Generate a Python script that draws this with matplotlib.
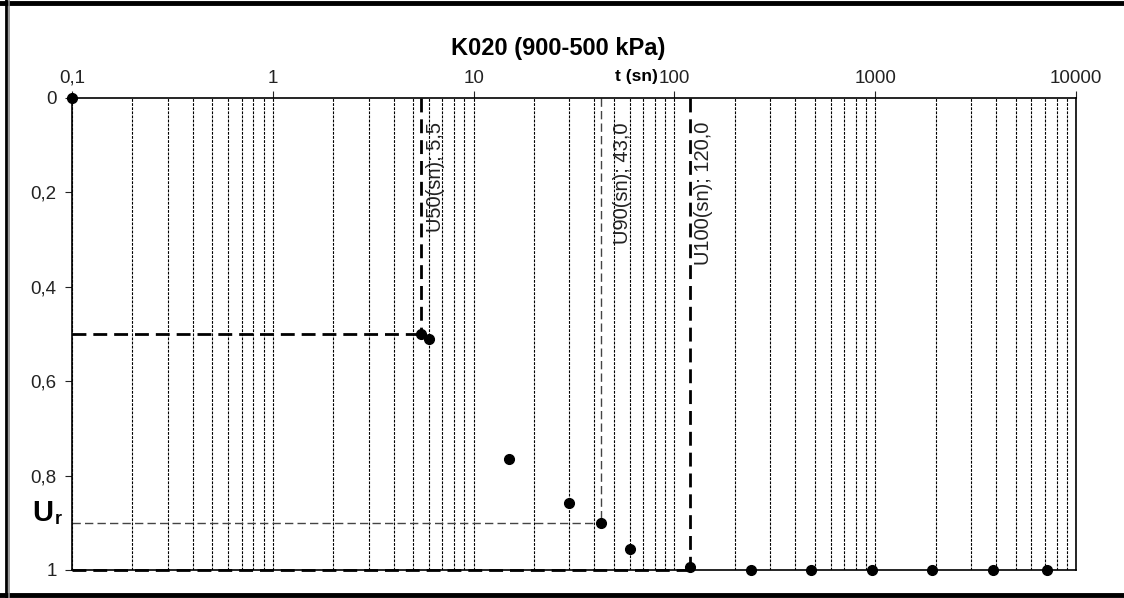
import matplotlib.pyplot as plt
from matplotlib.ticker import FixedLocator, LogLocator, NullFormatter

plt.rcParams['font.family'] = ['Liberation Sans', 'DejaVu Sans']

# measured points (time in sn, degree of consolidation)
t_values = [0.1, 6, 15, 30, 60, 120, 240, 480, 960, 1920, 3840, 7200]
u_values = [0.0, 0.51, 0.765, 0.858, 0.955, 0.994, 1.0, 1.0, 1.0, 1.0, 1.0, 1.0]

# characteristic times
u_levels = [0.5, 0.9, 1.0]
t_levels = [5.5, 43.0, 120.0]
level_labels = ['U50(sn); 5,5', 'U90(sn); 43,0', 'U100(sn); 120,0']

x_ticks = [0.1, 1, 10, 100, 1000, 10000]
x_ticklabels = ['0,1', '1', '10', '100', '1000', '10000']
y_ticks = [0, 0.2, 0.4, 0.6, 0.8, 1.0]
y_ticklabels = ['0', '0,2', '0,4', '0,6', '0,8', '1']

fig = plt.figure(figsize=(11.24, 5.98), dpi=100)
ax = fig.add_axes([72/1124, 1 - 570/598, 1004/1124, 472/598])

ax.set_xscale('log')
ax.set_xlim(0.1, 10000)
ax.set_ylim(1, 0)

# vertical dotted grid
ax.xaxis.set_minor_locator(LogLocator(base=10, subs=range(2, 10)))
ax.xaxis.set_minor_formatter(NullFormatter())
ax.grid(True, which='both', axis='x', color='black', linestyle=(0, (2.5, 1.2)), linewidth=0.8)
ax.set_axisbelow(True)

ax.xaxis.tick_top()
ax.xaxis.set_major_locator(FixedLocator(x_ticks))
ax.set_xticklabels(x_ticklabels)
ax.set_yticks(y_ticks)
ax.set_yticklabels(y_ticklabels)
ax.tick_params(axis='x', which='major', direction='out', length=5, labelsize=13.5, colors='#222222', pad=3)
ax.tick_params(axis='x', which='minor', length=0)
ax.tick_params(axis='y', direction='out', length=5, labelsize=13.5, colors='#222222', pad=6)
for s in ax.spines.values():
    s.set_linewidth(1.2)

# U50 lines
ax.plot([0.1, t_levels[0]], [u_levels[0], u_levels[0]], color='black', lw=2, ls=(0, (5, 2.5)))
ax.plot([t_levels[0], t_levels[0]], [0, u_levels[0]], color='black', lw=2, ls=(0, (5, 2.5)))
# U90 lines
ax.plot([0.1, t_levels[1]], [u_levels[1], u_levels[1]], color='#444444', lw=1, ls=(0, (6, 3)))
ax.plot([t_levels[1], t_levels[1]], [0, u_levels[1]], color='#444444', lw=1, ls=(0, (6, 3)))
# U100 lines
ax.plot([0.1, t_levels[2]], [u_levels[2], u_levels[2]], color='black', lw=2, ls=(0, (5, 2.5)), clip_on=False)
ax.plot([t_levels[2], t_levels[2]], [0, u_levels[2]], color='black', lw=2, ls=(0, (5, 2.5)))

ax.plot(t_values, u_values, 'o', color='black', markersize=7, clip_on=False, zorder=5)
ax.plot(t_levels[:2], u_levels[:2], 'o', color='black', markersize=7, zorder=5)

offsets = [14, 22, 13]
for tl, lab, off in zip(t_levels, level_labels, offsets):
    ax.annotate(lab, xy=(tl, 1), xycoords=('data', 'axes fraction'),
                xytext=(off, -24), textcoords='offset pixels', rotation=90,
                ha='center', va='top', fontsize=14.5, color='#222222')

fig.text(558 / 1124, 1 - 48 / 598, 'K020 (900-500 kPa)', ha='center', va='center',
         fontsize=17, fontweight='bold')
fig.text(636 / 1124, 1 - 76 / 598, 't (sn)', ha='center', va='center', fontsize=12.5, fontweight='bold')
fig.text(43 / 1124, 1 - 513 / 598, 'U', ha='center', va='center', fontsize=21, fontweight='bold')
fig.text(58 / 1124, 1 - 519 / 598, 'r', ha='center', va='center', fontsize=13, fontweight='bold')

# outer frame
fig.add_artist(plt.Line2D([0, 1], [1 - 3 / 598] * 2, color='black', lw=3.5, transform=fig.transFigure))
fig.add_artist(plt.Line2D([0, 1], [1 - 595 / 598] * 2, color='black', lw=3.5, transform=fig.transFigure))
fig.add_artist(plt.Line2D([6 / 1124] * 2, [0, 1], color='black', lw=2, transform=fig.transFigure))
fig.add_artist(plt.Line2D([8.5 / 1124] * 2, [0, 1], color='#888888', lw=1.2, transform=fig.transFigure))

fig.savefig('out.png', dpi=100)
